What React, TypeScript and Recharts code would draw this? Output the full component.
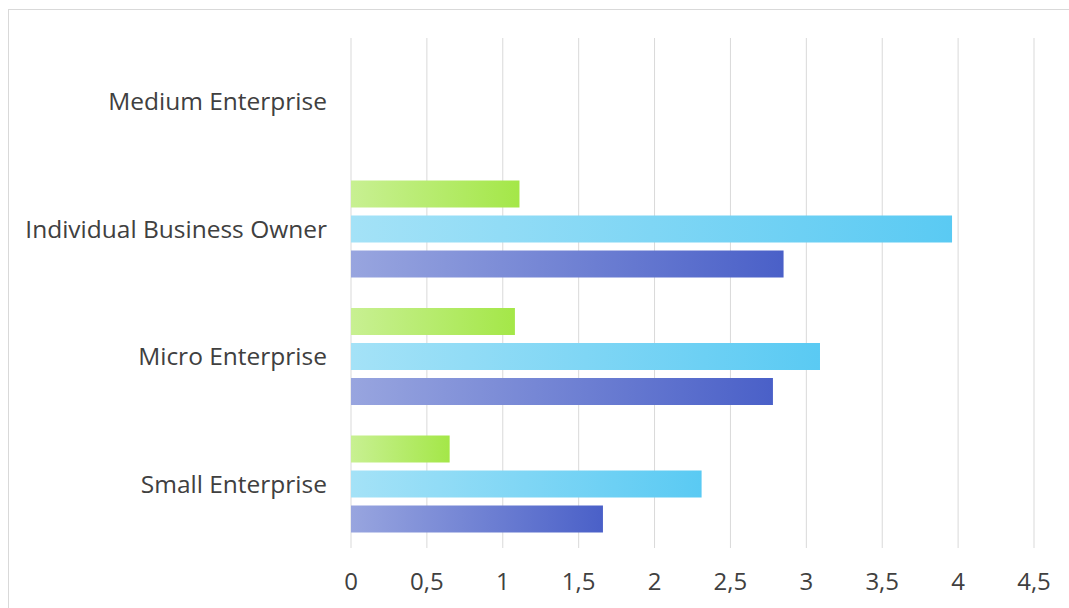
import React from 'react';
import { BarChart, Bar, XAxis, YAxis, CartesianGrid } from 'recharts';

const categories = ['Medium Enterprise', 'Individual Business Owner', 'Micro Enterprise', 'Small Enterprise'];
const greenValues = [0, 1.11, 1.08, 0.65];
const skyValues = [0, 3.96, 3.09, 2.31];
const indigoValues = [0, 2.85, 2.78, 1.66];
const xTicks = [0, 0.5, 1, 1.5, 2, 2.5, 3, 3.5, 4, 4.5];

const data = categories.map((name, i) => ({
  name,
  green: greenValues[i] || null,
  sky: skyValues[i] || null,
  indigo: indigoValues[i] || null,
}));

const fontFamily = '"Segoe UI", "Open Sans", "Noto Sans", sans-serif';
const formatTick = (v: number) => String(v).replace('.', ',');

const App: React.FC = () => {
  return (
    <div style={{ position: 'fixed', left: 8, top: 8, width: 1061, height: 600, overflow: 'hidden' }}>
      <div
        style={{
          position: 'absolute',
          left: 0,
          top: 1,
          width: 1100,
          height: 640,
          border: '1px solid #d9d9d9',
          background: '#fff',
        }}
      >
        <BarChart
          width={1045}
          height={598}
          data={data}
          layout="vertical"
          margin={{ top: 28, right: 20, bottom: 0, left: 0 }}
          barSize={27}
          barGap={8}
          style={{ fontFamily }}
        >
          <defs>
            <linearGradient id="greenGrad" x1="0" y1="0" x2="1" y2="0">
              <stop offset="0%" stopColor="#c8f092" />
              <stop offset="100%" stopColor="#a4e748" />
            </linearGradient>
            <linearGradient id="skyGrad" x1="0" y1="0" x2="1" y2="0">
              <stop offset="0%" stopColor="#a4e2f7" />
              <stop offset="100%" stopColor="#5acaf3" />
            </linearGradient>
            <linearGradient id="indigoGrad" x1="0" y1="0" x2="1" y2="0">
              <stop offset="0%" stopColor="#98a5df" />
              <stop offset="100%" stopColor="#4a60c8" />
            </linearGradient>
          </defs>
          <CartesianGrid horizontal={false} stroke="#d9d9d9" />
          <XAxis
            type="number"
            domain={[0, 4.5]}
            ticks={xTicks}
            tickFormatter={formatTick}
            axisLine={false}
            tickLine={false}
            tickSize={0}
            tickMargin={25}
            height={60}
            tick={{ fill: '#404040', fontSize: 24 }}
          />
          <YAxis
            type="category"
            dataKey="name"
            width={342}
            axisLine={false}
            tickLine={false}
            tickSize={0}
            tickMargin={24}
            tick={{ fill: '#404040', fontSize: 24.5 }}
          />
          <Bar dataKey="green" fill="url(#greenGrad)" isAnimationActive={false} />
          <Bar dataKey="sky" fill="url(#skyGrad)" isAnimationActive={false} />
          <Bar dataKey="indigo" fill="url(#indigoGrad)" isAnimationActive={false} />
        </BarChart>
      </div>
    </div>
  );
};

export default App;
